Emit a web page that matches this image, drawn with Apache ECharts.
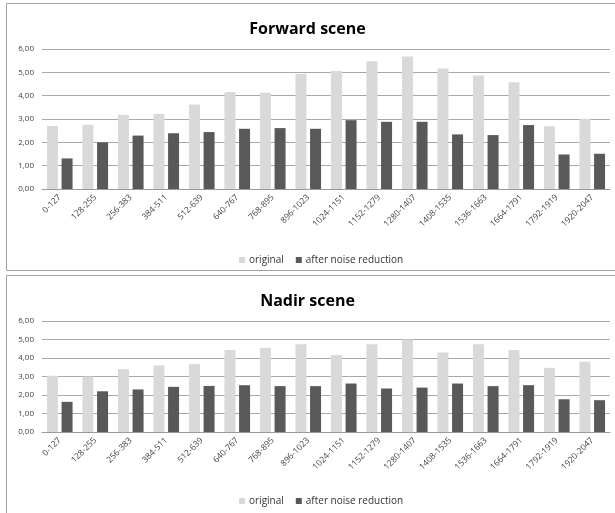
<!DOCTYPE html>
<html>
<head>
<meta charset="utf-8">
<script src="https://cdn.jsdelivr.net/npm/echarts@6/dist/echarts.min.js"></script>
<style>
  html, body { margin: 0; padding: 0; background: #ffffff; }
  #chart { width: 615px; height: 513px; }
</style>
</head>
<body>
<div id="chart"></div>
<script>
// Pixel-value ranges (bins of 128 levels)
const categories = ['0-127', '128-255', '256-383', '384-511', '512-639', '640-767', '768-895',
  '896-1023', '1024-1151', '1152-1279', '1280-1407', '1408-1535', '1536-1663', '1664-1791',
  '1792-1919', '1920-2047'];

const seriesNames = ['original', 'after noise reduction'];

// Forward scene
const forwardOriginal = [2.70, 2.75, 3.18, 3.22, 3.62, 4.16, 4.12, 4.94, 5.06, 5.47, 5.68, 5.16, 4.86, 4.57, 2.69, 3.01];
const forwardReduced  = [1.31, 2.00, 2.29, 2.39, 2.44, 2.58, 2.61, 2.58, 2.95, 2.88, 2.88, 2.34, 2.31, 2.74, 1.48, 1.51];

// Nadir scene
const nadirOriginal = [3.04, 3.00, 3.40, 3.60, 3.67, 4.43, 4.55, 4.75, 4.16, 4.75, 5.00, 4.30, 4.75, 4.43, 3.47, 3.80];
const nadirReduced  = [1.63, 2.20, 2.30, 2.44, 2.49, 2.53, 2.48, 2.48, 2.62, 2.35, 2.40, 2.62, 2.48, 2.53, 1.77, 1.72];

const panelTitles = ['Forward scene', 'Nadir scene'];
const yTicks = { min: 0, max: 6, interval: 1 };

const FONT = '"Open Sans", "Liberation Sans", sans-serif';
const LIGHT = '#d9d9d9';
const DARK = '#595959';

const chart = echarts.init(document.getElementById('chart'), null, { renderer: 'canvas' });

const panels = [
  { title: panelTitles[0], data: [forwardOriginal, forwardReduced], gridTop: 49, gridH: 140, titleTop: 16, legendTop: 250, box: [6.5, 3.5, 640, 267] },
  { title: panelTitles[1], data: [nadirOriginal, nadirReduced], gridTop: 321, gridH: 111, titleTop: 288, legendTop: 491, box: [6.5, 275.5, 640, 260] }
];

const option = {
  animation: false,
  backgroundColor: '#ffffff',
  title: panels.map(p => ({
    text: p.title,
    left: 'center',
    top: p.titleTop,
    textStyle: { fontFamily: FONT, fontWeight: 'bold', fontSize: 16, color: '#000000' }
  })),
  legend: panels.map((p, i) => ({
    data: seriesNames,
    left: 234,
    top: p.legendTop,
    itemWidth: 6,
    itemHeight: 6,
    itemGap: 12,
    icon: 'rect',
    textStyle: { fontFamily: FONT, fontSize: 10, color: '#333333', padding: [0, 0, 0, -1] },
    seriesIndex: [i * 2, i * 2 + 1]
  })),
  grid: panels.map(p => ({ left: 42, right: 5, top: p.gridTop, height: p.gridH, containLabel: false })),
  xAxis: panels.map((p, i) => ({
    type: 'category',
    gridIndex: i,
    data: categories,
    axisLine: { show: true, lineStyle: { color: '#9a9a9a', width: 1 } },
    axisTick: { show: false },
    axisLabel: { rotate: 45, fontFamily: FONT, fontSize: 8.5, color: '#404040', margin: 7, interval: 0 }
  })),
  yAxis: panels.map((p, i) => ({
    type: 'value',
    gridIndex: i,
    min: yTicks.min,
    max: yTicks.max,
    interval: yTicks.interval,
    axisLine: { show: false },
    axisTick: { show: false },
    splitLine: { lineStyle: { color: '#a8a8a8', width: 1 } },
    axisLabel: {
      fontFamily: FONT, fontSize: 8, color: '#404040', margin: 8,
      formatter: v => v.toFixed(2).replace('.', ',')
    }
  })),
  series: [],
  graphic: panels.map(p => ({
    type: 'rect',
    shape: { x: p.box[0], y: p.box[1], width: p.box[2], height: p.box[3] },
    style: { fill: 'none', stroke: '#a0a0a0', lineWidth: 1 },
    silent: true,
    z: 100
  }))
};

panels.forEach((p, i) => {
  p.data.forEach((values, k) => {
    option.series.push({
      name: seriesNames[k],
      type: 'bar',
      xAxisIndex: i,
      yAxisIndex: i,
      data: values,
      barWidth: 11,
      barGap: '33%',
      itemStyle: { color: k === 0 ? LIGHT : DARK }
    });
  });
});

chart.setOption(option);
</script>
</body>
</html>
